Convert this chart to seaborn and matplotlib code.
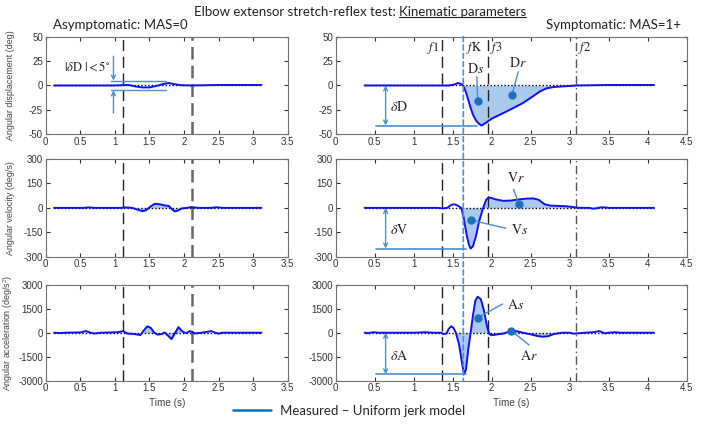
import matplotlib.pyplot as plt
from matplotlib.lines import Line2D
from matplotlib.patches import ConnectionPatch
import numpy as np
import seaborn as sns

# ---- asymptomatic (MAS=0), left column ----
t_disp_a = [0.12, 0.6, 1.0, 1.2, 1.3, 1.4, 1.5, 1.6, 1.7, 1.78, 1.85, 1.95, 2.1, 2.5, 3.12]
disp_a = [0, 0, 0, 0.5, -1, -2, -2, -0.5, 1.5, 2.5, 1.5, 0.3, 0, 0.5, 0.5]

t_vel_a = [0.12, 0.55, 0.62, 0.7, 1.1, 1.15, 1.25, 1.32, 1.4, 1.45, 1.52, 1.58, 1.65, 1.72,
           1.78, 1.83, 1.87, 1.92, 1.97, 2.05, 2.1, 2.2, 2.4, 2.47, 2.55, 3.12]
vel_a = [0, 0, 3, 0, 0, 3, 0, -10, -20, -15, 10, 25, 22, 15,
         12, -10, -22, -15, -3, 0, 5, 0, 0, 4, 0, 0]

t_acc_a = [0.12, 0.2, 0.3, 0.5, 0.58, 0.65, 0.7, 0.8, 1.05, 1.12, 1.18, 1.28, 1.37, 1.42,
           1.47, 1.52, 1.57, 1.62, 1.68, 1.72, 1.76, 1.82, 1.86, 1.92, 1.96, 2.0, 2.04,
           2.08, 2.12, 2.16, 2.25, 2.4, 2.45, 2.5, 2.55, 3.12]
acc_a = [0, -20, 0, 20, 100, 0, -50, 0, 30, 100, -50, -80, -150, 150,
         400, 300, 0, -120, -80, 20, -150, -400, -100, 350, 150, 20, -20,
         100, 50, -50, 0, 100, 0, -60, 0, 0]

# ---- symptomatic (MAS=1+), right column ----
t_disp_s = [0.37, 1.0, 1.45, 1.52, 1.57, 1.61, 1.64, 1.67, 1.70, 1.73, 1.76, 1.80, 1.84,
            1.87, 1.92, 2.0, 2.13, 2.28, 2.4, 2.53, 2.62, 2.7, 2.8, 2.9, 3.0, 3.08, 3.5, 4.08]
disp_s = [0, 0, 0, 1, 2.5, 1.5, -1, -7, -15, -23, -30, -36, -39.5,
          -41, -38.5, -34, -29, -23, -18, -11, -6, -3, -1.5, -1, -0.5, 0, 0.5, 0.5]

t_vel_s = [0.37, 1.3, 1.38, 1.43, 1.48, 1.52, 1.56, 1.61, 1.64, 1.68, 1.71, 1.73, 1.76,
           1.8, 1.84, 1.89, 1.93, 1.96, 2.0, 2.05, 2.15, 2.25, 2.35, 2.45, 2.53, 2.6,
           2.68, 2.75, 2.85, 2.95, 3.05, 3.1, 3.25, 3.3, 3.35, 3.4, 3.45, 3.5, 4.08]
vel_s = [0, 0, -3, 0, 18, 22, 15, 0, -60, -170, -230, -250, -235,
         -170, -80, 0, 50, 64, 60, 52, 43, 45, 52, 57, 58, 50,
         22, 14, 12, 10, 5, 0, 0, -5, -2, 3, 3, 0, 0]

t_acc_s = [0.37, 0.42, 0.48, 0.55, 1.0, 1.15, 1.25, 1.35, 1.38, 1.42, 1.45, 1.48, 1.51,
           1.54, 1.58, 1.62, 1.645, 1.67, 1.7, 1.73, 1.76, 1.79, 1.82, 1.86, 1.9, 1.94,
           1.97, 2.0, 2.05, 2.1, 2.15, 2.2, 2.27, 2.33, 2.4, 2.5, 2.58, 2.65, 2.72, 2.8,
           2.9, 3.0, 3.05, 3.1, 3.2, 3.3, 3.38, 3.45, 3.5, 3.58, 3.65, 4.08]
acc_s = [0, -30, 30, 0, 0, 30, 0, 0, -80, -60, 250, 400, 300,
         0, -700, -1900, -2600, -2300, -1000, 0, 1100, 2000, 2250, 2100, 1400, 400,
         -100, -150, -120, -80, -50, 30, 150, 80, 0, -100, -200, -250, -220, -80,
         0, 0, -60, -40, 0, 30, 100, -40, 0, 30, 0, 0]

y_labels = ["Angular displacement (deg)", "Angular velocity (deg/s)",
            "Angular acceleration (deg/s$^2$)"]
y_limits = [50, 300, 3000]

BLUE = "#1010f0"
FILL = "#a9c9ef"
ANNO = "#4a8fd0"
MARK = "#1f6fbf"

sns.set_style("ticks")
plt.rcParams["font.family"] = ["Liberation Sans", "DejaVu Sans"]
plt.rcParams["mathtext.fontset"] = "stix"

fig = plt.figure(figsize=(7.01, 4.36), dpi=100)
lefts = [(0.0652, 0.3452), (0.4789, 0.5007)]
rows = [(0.692, 0.2239), (0.4112, 0.2241), (0.1268, 0.2202)]
axes = [[fig.add_axes([l, b, w, h]) for (l, w) in lefts] for (b, h) in rows]


def draw_panel(ax, t, y, lim, xmax, fill_rng):
    t = np.asarray(t)
    y = np.asarray(y)
    sns.lineplot(x=t, y=np.zeros_like(y), ax=ax, color="black", lw=1.0,
                 linestyle=(0, (1, 1.5)), sort=False, zorder=3)
    if fill_rng is not None:
        m = (t >= fill_rng[0]) & (t <= fill_rng[1])
        ax.fill_between(t[m], y[m], 0, color=FILL, lw=0, zorder=1)
    sns.lineplot(x=t, y=y, ax=ax, color=BLUE, lw=1.4, sort=False, zorder=4)
    ax.set_xlim(0, xmax)
    ax.set_ylim(-lim, lim)
    xt = np.arange(0, xmax + 0.01, 0.5)
    yt = np.linspace(-lim, lim, 5)
    ax.set_xticks(xt)
    ax.set_xticklabels([f"{v:g}" for v in xt])
    ax.set_yticks(yt)
    ax.set_yticklabels([f"{v:g}" for v in yt])
    ax.tick_params(direction="in", top=True, right=True, length=3, width=0.8,
                   labelsize=7, colors="#333333", pad=2)
    for s in ax.spines.values():
        s.set_color("#707070")
        s.set_linewidth(0.8)


left_data = [(t_disp_a, disp_a, None), (t_vel_a, vel_a, (1.1, 2.1)), (t_acc_a, acc_a, (1.1, 2.1))]
right_data = [(t_disp_s, disp_s, (1.63, 3.08)), (t_vel_s, vel_s, (1.6, 3.1)),
              (t_acc_s, acc_s, (1.54, 2.9))]

for i in range(3):
    axL, axR = axes[i]
    draw_panel(axL, left_data[i][0], left_data[i][1], y_limits[i], 3.5, left_data[i][2])
    draw_panel(axR, right_data[i][0], right_data[i][1], y_limits[i], 4.5, right_data[i][2])
    axL.set_ylabel(y_labels[i], fontsize=6.4, color="#404040")
    axL.yaxis.set_label_coords(-0.128, 0.5)
    # vertical event lines
    axL.axvline(1.12, color="#222222", lw=1.0, dashes=(8, 4), zorder=2)
    axL.axvline(2.11, color="#666666", lw=1.8, dashes=(5, 2.5), zorder=2)
    axR.axvline(1.367, color="#222222", lw=1.0, dashes=(8, 4), zorder=2)
    axR.axvline(1.95, color="#222222", lw=1.0, dashes=(8, 4), zorder=2)
    axR.axvline(3.08, color="#555555", lw=1.0, dashes=(6, 2.5, 1, 2.5), zorder=2)

for ax in axes[2]:
    ax.set_xlabel("Time (s)", fontsize=7.2, color="#404040", labelpad=3)

# fK line crossing all right panels
con = ConnectionPatch(xyA=(1.636, 50), coordsA="data", axesA=axes[0][1],
                      xyB=(1.636, -3000), coordsB="data", axesB=axes[2][1],
                      color=ANNO, lw=1.2, linestyle=(0, (3, 2)), zorder=6)
fig.add_artist(con)

# f labels
axR0 = axes[0][1]
lab_kw = dict(fontsize=9, va="center", color="#222222")
axR0.text(1.33, 38, r"$\mathit{f}\mathrm{1}$", ha="right", **lab_kw)
axR0.text(1.67, 38, r"$\mathit{f}\mathrm{K}$", ha="left", **lab_kw)
axR0.text(1.98, 38, r"$\mathit{f}\mathrm{3}$", ha="left", **lab_kw)
axR0.text(3.11, 38, r"$\mathit{f}\mathrm{2}$", ha="left", **lab_kw)


def delta_mark(ax, ytip, xend, label, ylab):
    ax.annotate("", xy=(0.64, ytip), xytext=(0.64, 0),
                arrowprops=dict(arrowstyle="<->", color=ANNO, lw=1.0,
                                shrinkA=0, shrinkB=0, mutation_scale=7))
    ax.plot([0.52, xend], [ytip, ytip], color=ANNO, lw=1.2, zorder=5)
    ax.text(0.70, ylab, label, fontsize=10, va="center", ha="left", color="#222222")


def callout(ax, pt, end, label, lpos):
    ax.plot([pt[0], end[0]], [pt[1], end[1]], color=ANNO, lw=1.0, zorder=7)
    ax.plot(pt[0], pt[1], "o", color=MARK, ms=5, zorder=8)
    ax.text(lpos[0], lpos[1], label, fontsize=10, ha="center", va="center", color="#222222")


delta_mark(axes[0][1], -41, 1.81, r"$\delta\mathrm{D}$", -22)
delta_mark(axes[1][1], -250, 1.67, r"$\delta\mathrm{V}$", -136)
delta_mark(axes[2][1], -2600, 1.67, r"$\delta\mathrm{A}$", -1456)

callout(axes[0][1], (1.82, -15.5), (1.81, 9), r"$\mathrm{D}\mathit{s}$", (1.79, 17))
callout(axes[0][1], (2.26, -9.7), (2.34, 14), r"$\mathrm{D}\mathit{r}$", (2.34, 23))
callout(axes[1][1], (2.35, 24), (2.28, 114), r"$\mathrm{V}\mathit{r}$", (2.31, 181))
callout(axes[1][1], (1.73, -75), (2.18, -125), r"$\mathrm{V}\mathit{s}$", (2.36, -136))
callout(axes[2][1], (1.82, 938), (2.14, 1794), r"$\mathrm{A}\mathit{s}$", (2.31, 1731))
callout(axes[2][1], (2.25, 125), (2.48, -769), r"$\mathrm{A}\mathit{r}$", (2.48, -1456))

# |dD| < 5 deg annotation on asymptomatic displacement
axL0 = axes[0][0]
axL0.plot([0.95, 1.74], [5, 5], color=ANNO, lw=1.0, zorder=5)
axL0.plot([0.95, 1.74], [-5, -5], color=ANNO, lw=1.0, zorder=5)
axL0.annotate("", xy=(0.98, 5), xytext=(0.98, 30),
              arrowprops=dict(arrowstyle="->", color=ANNO, lw=1.0, shrinkA=0, shrinkB=0,
                              mutation_scale=7))
axL0.annotate("", xy=(0.98, -5), xytext=(0.98, -28),
              arrowprops=dict(arrowstyle="->", color=ANNO, lw=1.0, shrinkA=0, shrinkB=0,
                              mutation_scale=7))
axL0.text(0.93, 19, r"$|\delta\mathrm{D}\ | < 5^{\circ}$", fontsize=9, ha="right",
          va="center", color="#222222")

# titles
tfont = dict(family=["Lato", "DejaVu Sans"], fontsize=9.5, color="#222222")
split_x = 399 / 701
fig.text(split_x, 1 - 12 / 436, "Elbow extensor stretch-reflex test: ", ha="right",
         va="center", **tfont)
t2 = fig.text(split_x, 1 - 12 / 436, "Kinematic parameters", ha="left", va="center", **tfont)
fig.text(53 / 701, 1 - 25 / 436, "Asymptomatic: MAS=0", ha="left", va="center", **tfont)
fig.text(681 / 701, 1 - 25 / 436, "Symptomatic: MAS=1+", ha="right", va="center", **tfont)

# legend
handle = Line2D([], [], color="#0070c0", lw=1.8)
fig.legend([handle], ["Measured \u2013 Uniform jerk model"], loc="center left",
           bbox_to_anchor=(233 / 701, 1 - 411 / 436), frameon=False,
           handlelength=2.9, handletextpad=0.7, borderpad=0, borderaxespad=0,
           prop=dict(family=["Lato", "DejaVu Sans"], size=9.5))

fig.canvas.draw()
bb = t2.get_window_extent().transformed(fig.transFigure.inverted())
fig.add_artist(Line2D([bb.x0, bb.x1], [bb.y0 + 0.002, bb.y0 + 0.002],
                      transform=fig.transFigure, color="#222222", lw=0.8))

fig.savefig("out.png", dpi=100)
